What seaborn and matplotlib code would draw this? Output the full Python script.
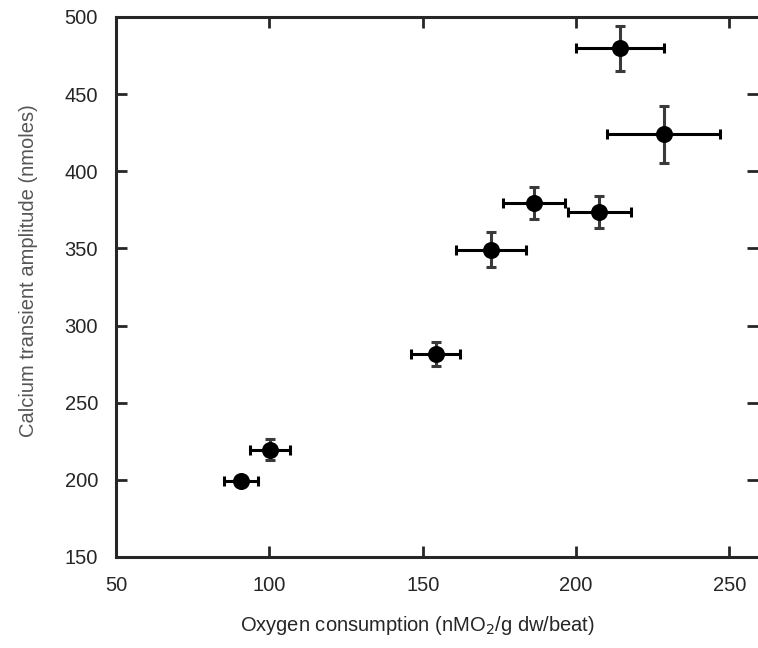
import numpy as np
import pandas as pd
import matplotlib
matplotlib.use("Agg")
import matplotlib.pyplot as plt
import seaborn as sns

# values
oxygen = [90.8, 100.2, 154.2, 172.3, 186.4, 207.6, 214.4, 228.5]
oxygen_err = [5.5, 6.5, 7.9, 11.4, 10.1, 10.3, 14.3, 18.4]
calcium = [199.5, 219.4, 281.4, 349.3, 379.6, 373.8, 479.7, 424.0]
calcium_err = [3.0, 6.8, 7.8, 11.3, 10.4, 10.3, 14.5, 18.4]

x_ticks = [50, 100, 150, 200, 250]
y_ticks = [150, 200, 250, 300, 350, 400, 450, 500]

df = pd.DataFrame({'oxygen': oxygen, 'calcium': calcium})

sns.set_style("ticks")
plt.rcParams['font.family'] = ['Liberation Sans', 'DejaVu Sans']

fig = plt.figure(figsize=(7.58, 6.48), dpi=100)
ax = fig.add_axes([116/758, 1-557/648, 1-116/758, (557-17)/648])

# horizontal error bars (black) and vertical ones (dark grey)
ax.errorbar(oxygen, calcium, xerr=oxygen_err, fmt='none', ecolor='black',
            elinewidth=2.2, capsize=3.5, capthick=2.2, zorder=2)
ax.errorbar(oxygen, calcium, yerr=calcium_err, fmt='none', ecolor='#3a3a3a',
            elinewidth=2.2, capsize=3.5, capthick=2.2, zorder=2)
sns.scatterplot(data=df, x='oxygen', y='calcium', ax=ax, color='black',
                s=150, edgecolor='black', linewidth=0, zorder=3)

ax.set_xlim(50, 259.3)
ax.set_ylim(150, 500)
ax.set_xticks(x_ticks)
ax.set_yticks(y_ticks)

for side in ['left', 'bottom', 'top']:
    ax.spines[side].set_linewidth(2.2)
ax.spines['right'].set_visible(False)

ax.tick_params(direction='in', length=8, width=2, top=True, right=True,
               labelsize=14.5, pad=13)
ax.tick_params(axis='x', pad=14)

ax.set_xlabel('Oxygen consumption (nMO$_2$/g dw/beat)', fontsize=14.5)
ax.xaxis.set_label_coords(0.470, -0.105)
ax.set_ylabel('Calcium transient amplitude (nmoles)', fontsize=14.5,
              color='#555555')
ax.yaxis.set_label_coords(-0.121, 0.531)

fig.savefig('out.png', dpi=100)
